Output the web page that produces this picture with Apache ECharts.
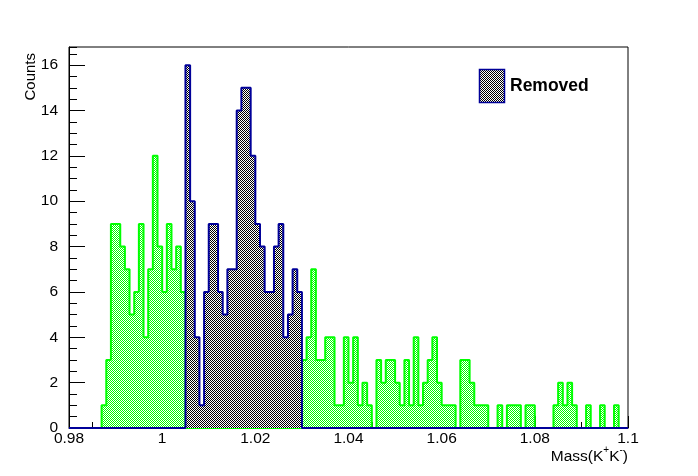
<!DOCTYPE html>
<html><head><meta charset="utf-8">
<script src="https://cdn.jsdelivr.net/npm/echarts@6/dist/echarts.min.js"></script>
<style>html,body{margin:0;padding:0;background:#fff}#c{width:698px;height:476px}</style>
</head><body><div id="c"></div>
<script>
// ---- data ----
const binLow = 0.98;
const binWidth = 0.001;
const xTickLabels = ['0.98', '1', '1.02', '1.04', '1.06', '1.08', '1.1'];
const yTickLabels = ['0', '2', '4', '6', '8', '10', '12', '14', '16'];
const keptCounts = [
  0,0,0,0,0,0,0,
  1,3,9,9,8,7,5,6,9,4,7,12,8,6,9,7,8,6,
  0,0,0,0,0,0,0,0,0,0,0,0,0,0,0,0,0,0,0,0,0,0,0,0,0,
  3,4,7,3,3,4,4,1,1,4,
  2,4,1,2,1,0,3,2,3,3,
  2,1,3,1,4,1,2,3,4,2,
  1,1,1,0,3,3,2,1,1,1,
  0,0,1,0,1,1,1,0,1,1,
  0,0,0,0,1,2,1,2,1,0,
  0,1,0,0,1,0,0,1,0,0
];
const removedCounts = [
  0,0,0,0,0,0,0,0,0,0,0,0,0,0,0,0,0,0,0,0,0,0,0,0,0,
  16,10,4,1,6,9,9,6,5,7,7,14,15,15,12,9,8,6,6,8,9,4,5,7,6,
  0,0,0,0,0,0,0,0,0,0,0,0,0,0,0,0,0,0,0,0,0,0,0,0,0,0,0,0,0,0,0,0,0,0,0,
  0,0,0,0,0,0,0,0,0,0,0,0,0,0,0,0,0,0,0,0,0,0,0,0,0,0,0,0,0,0,0,0,0,0,0
];
const legendLabel = 'Removed';

// ---- helpers ----
function stepData(counts) {
  const pts = [[binLow, 0]];
  counts.forEach((v, i) => pts.push([+(binLow + i * binWidth).toFixed(4), v]));
  pts.push([+(binLow + counts.length * binWidth).toFixed(4), 0]);
  return pts;
}
function checker(c1, c2) {
  const cv = document.createElement('canvas');
  cv.width = 2; cv.height = 2;
  const ctx = cv.getContext('2d');
  ctx.fillStyle = c2; ctx.fillRect(0, 0, 2, 2);
  ctx.fillStyle = c1; ctx.fillRect(0, 0, 1, 1); ctx.fillRect(1, 1, 1, 1);
  return cv;
}
const greenPat = checker('#00ff00', '#ffffff');
const darkPat = checker('#000000', '#ffffff');
const FONT = 'Liberation Sans, Arial, Helvetica, sans-serif';

const chart = echarts.init(document.getElementById('c'), null, {renderer: 'canvas'});
chart.setOption({
  animation: false,
  backgroundColor: '#fff',
  grid: {left: 69, right: 70, top: 47, bottom: 48, show: true, borderColor: '#000', borderWidth: 1, backgroundColor: 'transparent'},
  xAxis: [
    {type: 'value', min: 0.98, max: 1.1, interval: 0.02,
     axisLine: {lineStyle: {color: '#000', width: 1}},
     axisTick: {inside: true, length: 12, lineStyle: {color: '#000'}},
     axisLabel: {margin: 3, color: '#000', fontFamily: FONT, fontSize: 15.5,
       formatter: v => xTickLabels[Math.round((v - 0.98) / 0.02)]},
     splitLine: {show: false}},
    {type: 'value', min: 0.98, max: 1.1, interval: 0.005, position: 'bottom',
     axisLine: {show: false},
     axisTick: {inside: true, length: 6, lineStyle: {color: '#000'}},
     axisLabel: {show: false}, splitLine: {show: false}}
  ],
  yAxis: [
    {type: 'value', min: 0, max: 16.8, interval: 2,
     axisLine: {show: true, lineStyle: {color: '#000', width: 1}},
     axisTick: {show: true, inside: true, length: 16, lineStyle: {color: '#000'}},
     axisLabel: {margin: 11, color: '#000', fontFamily: FONT, fontSize: 15.5, showMaxLabel: false,
       formatter: v => yTickLabels[Math.round(v / 2)]},
     splitLine: {show: false}},
    {type: 'value', min: 0, max: 16.8, interval: 0.5, position: 'left',
     axisLine: {show: false},
     axisTick: {show: true, inside: true, length: 8, lineStyle: {color: '#000'}},
     axisLabel: {show: false}, splitLine: {show: false}}
  ],
  series: [
    {name: 'Kept', type: 'line', step: 'end', data: stepData(keptCounts),
     showSymbol: false, symbol: 'none', z: 3,
     lineStyle: {color: '#00ff00', width: 2},
     areaStyle: {color: {image: greenPat, repeat: 'repeat'}, opacity: 1}},
    {name: legendLabel, type: 'line', step: 'end', data: stepData(removedCounts),
     showSymbol: false, symbol: 'none', z: 4,
     lineStyle: {color: '#000099', width: 2},
     areaStyle: {color: {image: darkPat, repeat: 'repeat'}, opacity: 1}}
  ],
  graphic: [
    {type: 'text', x: 31, y: 53, rotation: Math.PI / 2,
     style: {text: 'Counts', align: 'right', verticalAlign: 'middle', font: '15px ' + FONT, fill: '#000'}},
    {type: 'text', x: 628, y: 455,
     style: {text: '{n|Mass(K}{s|+}{n|K}{s|-}{n|)}', align: 'right', verticalAlign: 'middle', fill: '#000',
       rich: {n: {fontSize: 15.5, fontFamily: FONT, lineHeight: 20, verticalAlign: 'bottom'},
              s: {fontSize: 10, fontFamily: FONT, lineHeight: 12, verticalAlign: 'top'}}}},
    {type: 'rect', shape: {x: 479.5, y: 69.5, width: 25, height: 33}, z: 10,
     style: {fill: {image: darkPat, repeat: 'repeat'}, stroke: '#000099', lineWidth: 1.5}},
    {type: 'text', x: 510, y: 86, z: 10,
     style: {text: legendLabel, align: 'left', verticalAlign: 'middle', font: 'bold 17.5px ' + FONT, fill: '#000'}}
  ]
});
</script></body></html>
